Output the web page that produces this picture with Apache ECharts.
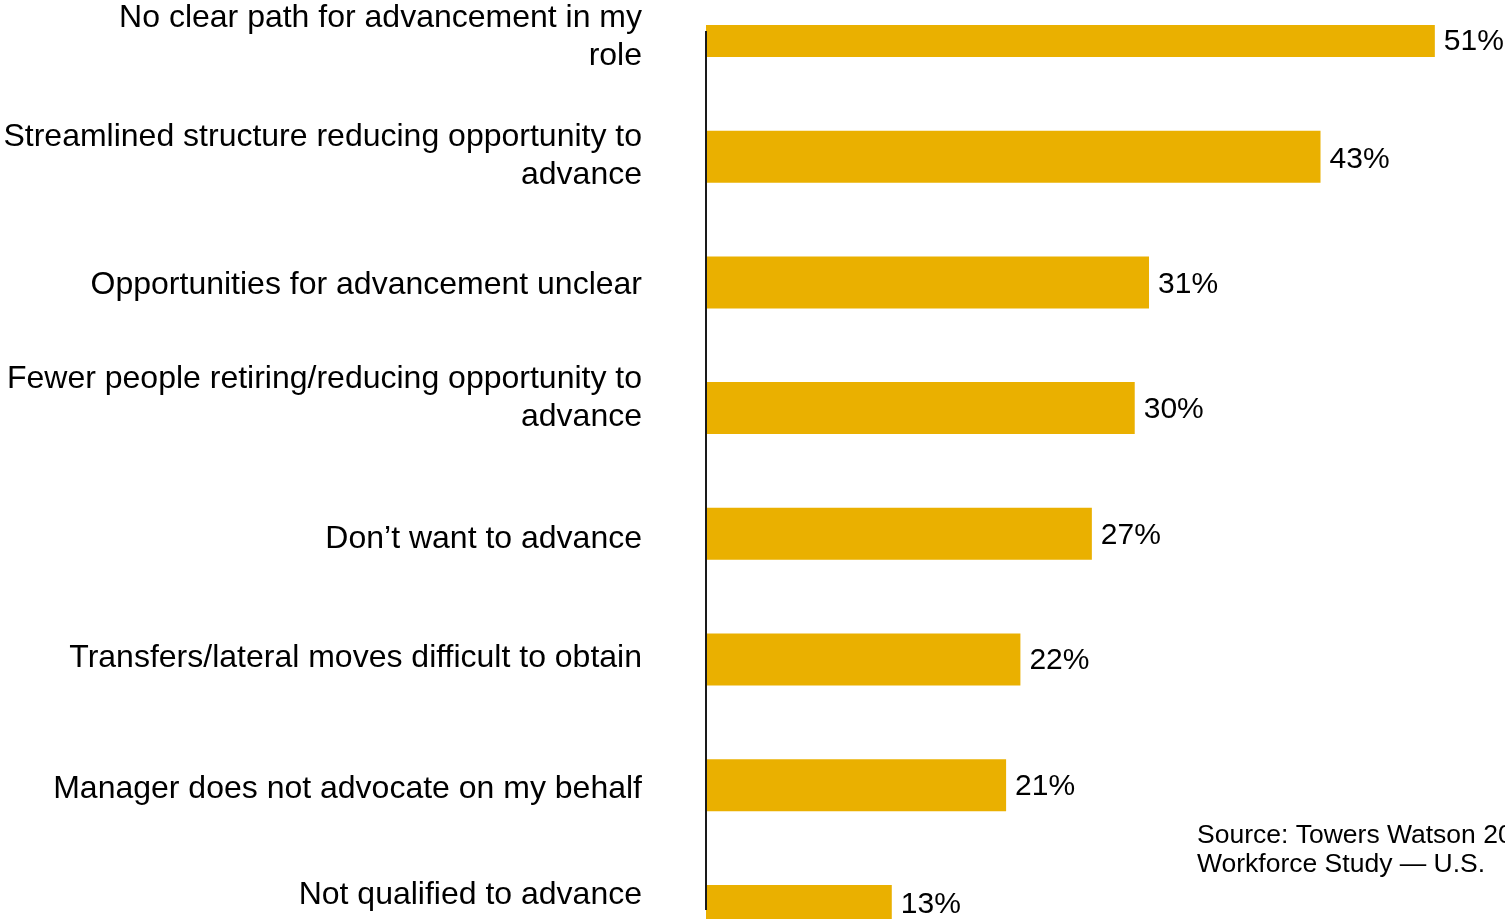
<!DOCTYPE html>
<html>
<head>
<meta charset="utf-8">
<script src="https://cdn.jsdelivr.net/npm/echarts@6/dist/echarts.min.js"></script>
<style>
html,body{margin:0;padding:0;background:#fff;}
#chart{width:1505px;height:919px;}
</style>
</head>
<body>
<div id="chart"></div>
<script>
const categories = [
  "No clear path for advancement in my\nrole",
  "Streamlined structure reducing opportunity to\nadvance",
  "Opportunities for advancement unclear",
  "Fewer people retiring/reducing opportunity to\nadvance",
  "Don\u2019t want to advance",
  "Transfers/lateral moves difficult to obtain",
  "Manager does not advocate on my behalf",
  "Not qualified to advance"
];
const values = [51, 43, 31, 30, 27, 22, 21, 13];
const sourceText = "Source: Towers Watson 2012 Global\nWorkforce Study \u2014 U.S.";

const FONT = "Liberation Sans, Arial, sans-serif";
const chart = echarts.init(document.getElementById('chart'), null, {renderer: 'canvas'});

// small per-item nudges of label placement (layout only)
const labelShiftY = [11, 3, 2, 2, 2, 1, 2, -6];
const catShift = [6.5, 0, 3, -9.5, 5, -1, 4, -16];

const baseText = {fontFamily: FONT, fontSize: 32, color: '#000', lineHeight: 38};
const rich = {};
catShift.forEach((s, i) => {
  rich['p' + i] = Object.assign({}, baseText, {
    padding: s >= 0 ? [2 * s, 0, 0, 0] : [0, 0, -2 * s, 0]
  });
});

function catLabel(value, index) {
  return String(value).split('\n')
    .map(ln => '{p' + index + '|' + ln + '}')
    .join('\n');
}

const option = {
  animation: false,
  backgroundColor: '#ffffff',
  title: {
    text: sourceText,
    left: 1197, top: 821,
    padding: 0,
    textStyle: {fontFamily: FONT, fontSize: 26.5, fontWeight: 'normal', color: '#000', lineHeight: 29}
  },
  grid: {left: 706, width: 786, top: -31.9, height: 1005.7, containLabel: false, outerBoundsMode: 'none'},
  xAxis: {
    type: 'value', min: 0, max: 55,
    show: false
  },
  yAxis: {
    type: 'category',
    inverse: true,
    data: categories,
    axisLine: {show: false},
    axisTick: {show: false},
    splitLine: {show: false},
    axisLabel: Object.assign({
      margin: 64, hideOverlap: false, align: 'right',
      formatter: catLabel,
      rich: rich
    }, baseText)
  },
  series: [{
    type: 'bar',
    barWidth: 52,
    data: values.map((v, i) => ({value: v, label: {offset: [0, labelShiftY[i]]}})),
    itemStyle: {color: '#EAB000'},
    label: {
      show: true, position: 'right', distance: 9,
      formatter: '{c}%',
      fontFamily: FONT, fontSize: 30, color: '#000'
    }
  }]
};
chart.setOption(option);

// axis line from first to last category centre, and top clip of the plot area
const p0 = chart.convertToPixel({gridIndex: 0}, [0, 0]);
const p1 = chart.convertToPixel({gridIndex: 0}, [0, categories.length - 1]);
const pMax = chart.convertToPixel({gridIndex: 0}, [values[0], 0]);
chart.setOption({
  graphic: [
    {type: 'rect', z: 50, shape: {x: p0[0] - 5, y: 0, width: pMax[0] - p0[0] + 6, height: p0[1] - 6}, style: {fill: '#fff'}},
    {type: 'line', z: 60, shape: {x1: p0[0], y1: p0[1], x2: p1[0], y2: p1[1] - 1}, style: {stroke: '#1a1a1a', lineWidth: 2}}
  ]
});
</script>
</body>
</html>
